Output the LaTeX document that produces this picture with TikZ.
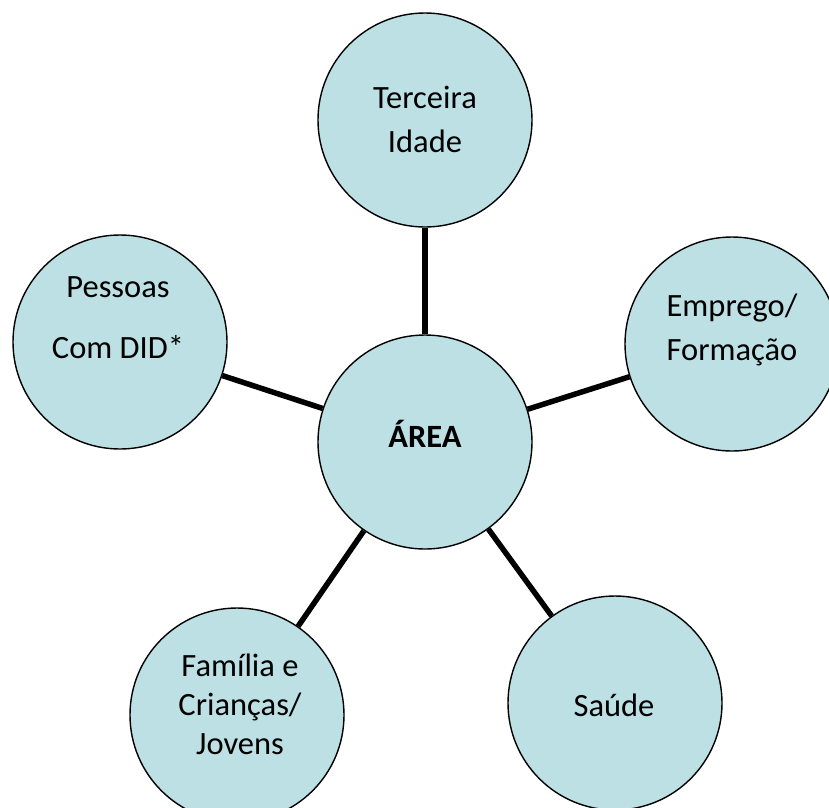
\documentclass[tikz,border=0pt]{standalone}
\usepackage{fontspec}
\setmainfont{Carlito}
\definecolor{bubble}{RGB}{188,224,228}
\begin{document}
\begin{tikzpicture}[x=1pt,y=-1pt,
  bubble/.style={circle,draw=black,line width=1.4pt,fill=bubble,minimum size=214pt,inner sep=0pt},
  spoke/.style={line width=5.5pt,black},
  txt/.style={align=center,font=\fontsize{32.5}{44}\selectfont}]
\useasboundingbox (0,0) rectangle (829,807);
\node[bubble] (c) at (425,442) {};
\node[bubble] (t) at (425,120) {};
\node[bubble] (p) at (120,342) {};
\node[bubble] (e) at (732,344) {};
\node[bubble] (f) at (237,715) {};
\node[bubble] (s) at (615,703) {};
\draw[spoke] (c) -- (t);
\draw[spoke] (c) -- (p);
\draw[spoke] (c) -- (e);
\draw[spoke] (c) -- (f);
\draw[spoke] (c) -- (s);
\node[txt,font=\bfseries\fontsize{32.5}{38}\selectfont] (ct) at (425,434) {ÁREA};
\node[txt] (tt) at (425,119) {Terceira\\Idade};
\node[txt,font=\fontsize{32.5}{61}\selectfont] (pt) at (118,318) {Pessoas\\Com DID*};
\node[txt] (et) at (732,330) {Emprego/\\Formação};
\node[txt,font=\fontsize{32.5}{39}\selectfont] (ft) at (240,704) {Família e\\Crianças/\\Jovens};
\node[txt] (st) at (614,705) {Saúde};
\end{tikzpicture}
\end{document}
